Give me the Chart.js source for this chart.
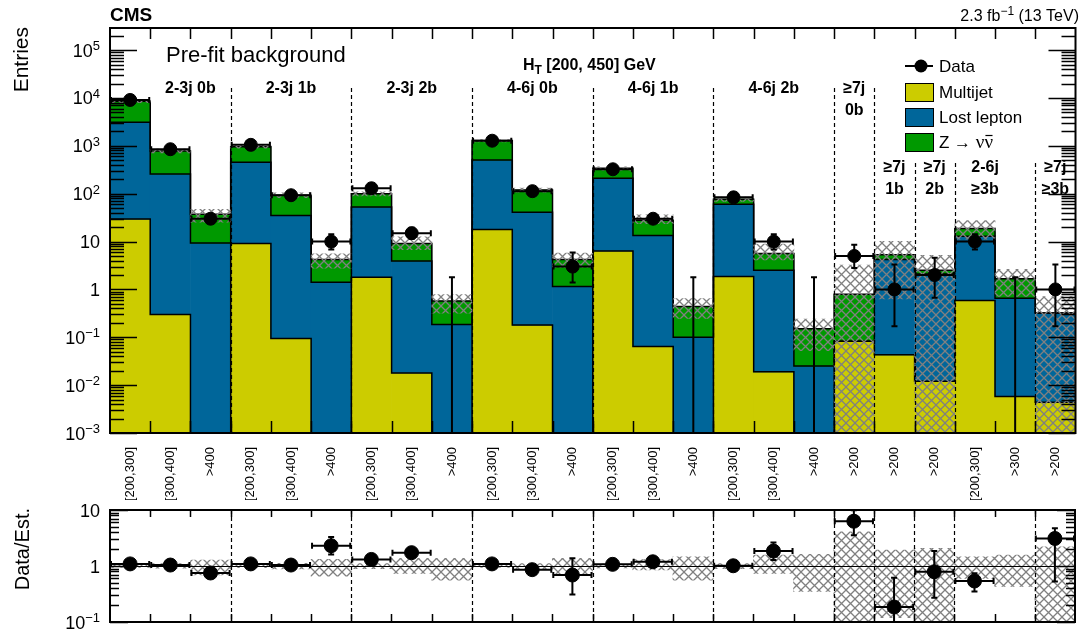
<!DOCTYPE html>
<html>
<head>
<meta charset="utf-8">
<script src="https://cdn.jsdelivr.net/npm/chart.js@4.4.1/dist/chart.umd.min.js"></script>
<style>
  html, body { margin: 0; padding: 0; background: #fff; }
  #wrap { position: relative; width: 1083px; height: 637px; }
  #mainChart { position: absolute; left: 0; top: 0; }
  #ratioChart { position: absolute; left: 0; top: 500px; }
</style>
</head>
<body>
<div id="wrap">
  <canvas id="mainChart" width="1083" height="500"></canvas>
  <canvas id="ratioChart" width="1083" height="137"></canvas>
</div>
<script>
// ---- data ----
const binLabels = [
  '[200,300]', '[300,400]', '>400',
  '[200,300]', '[300,400]', '>400',
  '[200,300]', '[300,400]', '>400',
  '[200,300]', '[300,400]', '>400',
  '[200,300]', '[300,400]', '>400',
  '[200,300]', '[300,400]', '>400',
  '>200', '>200', '>200', '[200,300]', '>300', '>200'
];

// background components (stacked: multijet, lost lepton, Z->nunu)
const multijet   = [29.5, 0.30, 0, 9.1, 0.094, 0, 1.8, 0.018, 0, 17.8, 0.18, 0, 6.35, 0.064, 0, 1.87, 0.019, 0, 0.083, 0.043, 0.012, 0.59, 0.0058, 0.0044];
const lostLepton = [3070, 257, 9.3, 446, 35, 1.42, 51, 3.9, 0.185, 487, 41, 1.15, 203, 13.4, 0.10, 58, 2.5, 0.025, 0, 4.2, 2.09, 12.3, 0.65, 0.316];
const zInv       = [5400, 523, 27.7, 505, 58, 2.8, 47, 5.2, 0.385, 785, 78, 3.05, 129, 14.5, 0.34, 17, 3.1, 0.125, 0.71, 1.05, 0.4, 5.8, 1.01, 0];

// relative uncertainty band on the total estimate
const bandHigh = [1.06, 1.10, 1.28, 1.07, 1.12, 1.31, 1.10, 1.37, 1.37, 1.06, 1.10, 1.37, 1.08, 1.30, 1.46, 1.10, 1.57, 1.61, 4.07, 1.92, 2.06, 1.46, 1.57, 2.2];
const bandLow  = [0.94, 0.91, 0.69, 0.93, 0.89, 0.66, 0.90, 0.74, 0.56, 0.94, 0.90, 0.69, 0.92, 0.85, 0.56, 0.90, 0.74, 0.35, 0, 0.12, 0, 0.60, 0.43, 0];

// observed data
const dataCounts = [9100, 850, 30, 1050, 93, 10, 130, 15, 0, 1280, 113, 3, 324, 30, 0, 84, 10, 0, 5, 1, 2, 10, 0, 1];
const dataLow    = [9000, 820, 25, 1020, 84, 6.8, 119, 11.4, 0, 1245, 102, 1.4, 306, 25, 0, 75, 6.8, 0, 2.8, 0.17, 0.67, 6.8, 0, 0.17];
const dataHigh   = [9200, 880, 36, 1080, 103, 14.2, 141, 19.4, 1.8, 1315, 124, 5.9, 342, 36, 1.8, 94, 14.2, 1.8, 8.6, 3.3, 4.6, 14.2, 1.8, 3.3];

// data / estimate
const ratioValues = [1.09, 1.04, 0.75, 1.09, 1.04, 2.3, 1.31, 1.73, null, 1.09, 0.86, 0.69, 1.07, 1.19, null, 1.01, 1.85, null, 6.3, 0.185, 0.79, 0.54, null, 3.1];
const ratioLow    = [1.07, 0.99, 0.63, 1.04, 0.93, 1.61, 1.2, 1.4, null, 1.06, 0.79, 0.31, 1.01, 1.0, null, 0.9, 1.28, null, 3.55, 0.05, 0.27, 0.35, null, 0.53];
const ratioHigh   = [1.11, 1.09, 0.88, 1.14, 1.16, 3.3, 1.42, 2.1, null, 1.12, 0.95, 1.37, 1.13, 1.4, null, 1.13, 2.63, null, 9.9, 0.62, 1.85, 0.74, null, 4.7];

// axis ticks ("^" marks the exponent)
const yTickValues = [1e-3, 1e-2, 1e-1, 1, 10, 1e2, 1e3, 1e4, 1e5];
const yTickLabels = ['10^\u22123', '10^\u22122', '10^\u22121', '1', '10', '10^2', '10^3', '10^4', '10^5'];
const ratioTickValues = [0.1, 1, 10];
const ratioTickLabels = ['10^\u22121', '1', '10'];

// category groups
const groupLabels = [['2-3j 0b'], ['2-3j 1b'], ['2-3j 2b'], ['4-6j 0b'], ['4-6j 1b'], ['4-6j 2b'],
  ['\u22657j', '0b'], ['\u22657j', '1b'], ['\u22657j', '2b'], ['2-6j', '\u22653b'], ['\u22657j', '\u22653b']];
const groupFirstBin = [0, 3, 6, 9, 12, 15, 18, 19, 20, 21, 23];
const groupLastBin  = [2, 5, 8, 11, 14, 17, 18, 19, 20, 22, 23];
const groupRow      = [1, 1, 1, 1, 1, 1, 1, 2, 2, 2, 2];

const legendNames = ['Data', 'Multijet', 'Lost lepton', 'Z \u2192 '];

/* -------------------------------
   STYLE
--------------------------------*/
const FONT = "'Liberation Sans', Arial, Helvetica, sans-serif";
const SERIF = "'Liberation Serif', 'Times New Roman', serif";
const YELLOW = '#cccc00';
const BLUE = '#00669a';
const GREEN = '#009900';
const yMin = 1e-3, yMax = 2.9e5;
const rMin = 0.1, rMax = 10;

Chart.defaults.font.family = FONT;
Chart.defaults.color = '#000';

function makeHatch() {
  const c = document.createElement('canvas');
  c.width = 9; c.height = 9;
  const g = c.getContext('2d');
  g.strokeStyle = '#808080';
  g.lineWidth = 1.3;
  g.beginPath();
  g.moveTo(0, 0); g.lineTo(9, 9);
  g.moveTo(9, 0); g.lineTo(0, 9);
  g.stroke();
  return g.createPattern(c, 'repeat');
}
const hatch = makeHatch();

// cumulative stack levels
const lvlM = multijet.slice();
const lvlL = multijet.map((m, i) => m + lostLepton[i]);
const lvlT = lvlL.map((v, i) => v + zInv[i]);

function edgePx(scale, e) {
  return scale.getPixelForValue(e - 0.5);
}

function clipArea(ctx, a) {
  ctx.beginPath();
  ctx.rect(a.left, a.top, a.right - a.left, a.bottom - a.top);
  ctx.clip();
}

// text pieces with optional superscript / subscript
function drawPieces(ctx, pieces, x, y, align, size, weight) {
  const fonts = pieces.map(p => (weight || '') + ' ' + (p.sup || p.sub ? Math.round(size * 0.72) : size) + 'px ' + (p.family || FONT));
  const widths = pieces.map((p, i) => { ctx.font = fonts[i]; return ctx.measureText(p.t).width; });
  const total = widths.reduce((s, w) => s + w, 0);
  let cx = align === 'right' ? x - total : (align === 'center' ? x - total / 2 : x);
  ctx.textAlign = 'left';
  ctx.textBaseline = 'alphabetic';
  pieces.forEach((p, i) => {
    ctx.font = fonts[i];
    const dy = p.sup ? -size * 0.36 : (p.sub ? size * 0.28 : 0);
    ctx.fillText(p.t, cx, y + dy);
    cx += widths[i];
  });
  return cx;
}

function labelPieces(s) {
  const k = s.indexOf('^');
  return k < 0 ? [{ t: s }] : [{ t: s.slice(0, k) }, { t: s.slice(k + 1), sup: true }];
}

// frame, ticks inside, dashed separators, y tick labels
function drawFrame(chart, o) {
  const { ctx, chartArea: a } = chart;
  const x = chart.scales.x, y = chart.scales.y;
  ctx.save();
  ctx.strokeStyle = '#000';

  ctx.lineWidth = 1.2;
  ctx.setLineDash([4, 3]);
  o.separators.forEach(s => {
    const px = Math.round(edgePx(x, s.edge)) + 0.5;
    ctx.beginPath();
    ctx.moveTo(px, s.top);
    ctx.lineTo(px, a.bottom);
    ctx.stroke();
  });
  ctx.setLineDash([]);

  ctx.lineWidth = 1.5;
  ctx.beginPath();
  for (let e = 1; e < binLabels.length; e++) {
    const px = Math.round(edgePx(x, e)) + 0.5;
    ctx.moveTo(px, a.top); ctx.lineTo(px, a.top + o.xTickTop);
    ctx.moveTo(px, a.bottom); ctx.lineTo(px, a.bottom - o.xTickBot);
  }
  const lo = Math.floor(Math.log10(y.min)), hi = Math.ceil(Math.log10(y.max));
  for (let k = lo; k <= hi; k++) {
    for (let m = 1; m <= 9; m++) {
      const v = m * Math.pow(10, k);
      if (v < y.min * 0.999 || v > y.max * 1.001) continue;
      const py = Math.round(y.getPixelForValue(v)) + 0.5;
      const len = m === 1 ? o.major : o.minor;
      ctx.moveTo(a.left, py); ctx.lineTo(a.left + len, py);
      ctx.moveTo(a.right, py); ctx.lineTo(a.right - len, py);
    }
  }
  ctx.stroke();

  ctx.lineWidth = 2;
  ctx.strokeRect(a.left, a.top, a.right - a.left, a.bottom - a.top);

  // y tick labels
  ctx.fillStyle = '#000';
  o.tickValues.forEach((v, i) => {
    const py = y.getPixelForValue(v);
    drawPieces(ctx, labelPieces(o.tickLabels[i]), a.left - 10, py + 6.5, 'right', 18);
  });
  ctx.restore();
}

function drawErrors(chart, vals, lo, hi, floor) {
  const { ctx, chartArea: a } = chart;
  const x = chart.scales.x, y = chart.scales.y;
  ctx.save();
  clipArea(ctx, a);
  ctx.strokeStyle = '#000';
  ctx.lineWidth = 2;
  const cap = 3;
  vals.forEach((v, i) => {
    if (hi[i] === null) return;
    const cx = x.getPixelForValue(i);
    const yTop = y.getPixelForValue(hi[i]);
    const yBot = lo[i] > floor ? y.getPixelForValue(lo[i]) : a.bottom + 2;
    ctx.beginPath();
    ctx.moveTo(cx, yTop); ctx.lineTo(cx, yBot);
    ctx.moveTo(cx - cap, yTop); ctx.lineTo(cx + cap, yTop);
    if (lo[i] > floor) { ctx.moveTo(cx - cap, yBot); ctx.lineTo(cx + cap, yBot); }
    if (v !== null && v > 0) {
      const cy = y.getPixelForValue(v);
      const xl = edgePx(x, i), xr = edgePx(x, i + 1);
      ctx.moveTo(xl, cy); ctx.lineTo(xr, cy);
      ctx.moveTo(xl + 1, cy - cap); ctx.lineTo(xl + 1, cy + cap);
      ctx.moveTo(xr - 1, cy - cap); ctx.lineTo(xr - 1, cy + cap);
    }
    ctx.stroke();
  });
  ctx.restore();
}

// keep the plot frame exactly where the layout padding puts it
function fixX(height) {
  return s => {
    s.height = height;
    s.paddingLeft = 0;
    s.paddingRight = 0;
  };
}
function fixY(s) {
  s.width = 110;
  s.paddingTop = 0;
  s.paddingBottom = 0;
}

/* -------------------------------
   MAIN PANEL
--------------------------------*/
const mainSeparators = groupFirstBin.slice(1).map((b, k) => ({
  edge: b,
  top: (groupRow[k] === 1 || groupRow[k + 1] === 1) ? 88 : 163
}));

const mainPlugin = {
  id: 'mainPlugin',
  afterDatasetDraw(chart, args) {
    if (args.index !== 2) return;
    // step outlines of the cumulative histograms
    const { ctx, chartArea: a } = chart;
    const x = chart.scales.x, y = chart.scales.y;
    ctx.save();
    clipArea(ctx, a);
    ctx.strokeStyle = '#000';
    ctx.lineWidth = 1.5;
    [lvlM, lvlL, lvlT].forEach(lvl => {
      ctx.beginPath();
      lvl.forEach((v, i) => {
        const py = y.getPixelForValue(Math.max(v, yMin));
        const xl = edgePx(x, i), xr = edgePx(x, i + 1);
        if (i === 0) ctx.moveTo(xl, py); else ctx.lineTo(xl, py);
        ctx.lineTo(xr, py);
      });
      ctx.stroke();
    });
    ctx.restore();
  },
  afterDatasetsDraw(chart) {
    drawErrors(chart, dataCounts, dataLow, dataHigh, 0);
  },
  afterDraw(chart) {
    drawFrame(chart, { separators: mainSeparators, xTickTop: 11, xTickBot: 12, major: 27, minor: 14,
      tickValues: yTickValues, tickLabels: yTickLabels });
    const ctx = chart.ctx;
    const x = chart.scales.x;
    ctx.save();
    ctx.fillStyle = '#000';

    // header
    drawPieces(ctx, [{ t: 'CMS' }], 110, 21, 'left', 19, 'bold');
    drawPieces(ctx, [{ t: '2.3 fb' }, { t: '\u22121', sup: true }, { t: ' (13 TeV)' }], 1079, 21, 'right', 16);

    // y title
    ctx.save();
    ctx.translate(28, 27);
    ctx.rotate(-Math.PI / 2);
    ctx.font = '21px ' + FONT;
    ctx.textAlign = 'right';
    ctx.textBaseline = 'alphabetic';
    ctx.fillText('Entries', 0, 0);
    ctx.restore();

    drawPieces(ctx, [{ t: 'Pre-fit background' }], 166, 62, 'left', 22);
    drawPieces(ctx, [{ t: 'H' }, { t: 'T', sub: true }, { t: ' [200, 450] GeV' }], 523, 70, 'left', 16, 'bold');

    // group labels
    groupLabels.forEach((lines, g) => {
      let cx = (edgePx(x, groupFirstBin[g]) + edgePx(x, groupLastBin[g] + 1)) / 2;
      if (g === 0) cx += 20;
      if (g === 9) cx -= 10;
      const base = groupRow[g] === 1 ? 93 : 172;
      lines.forEach((t, j) => drawPieces(ctx, [{ t }], cx, base + j * 22, 'center', 16, 'bold'));
    });

    // legend
    const lx0 = 905, lx1 = 933;
    ctx.strokeStyle = '#000';
    ctx.lineWidth = 2;
    ctx.beginPath(); ctx.moveTo(lx0, 66); ctx.lineTo(lx1, 66); ctx.stroke();
    ctx.beginPath(); ctx.arc(921, 66, 6.5, 0, Math.PI * 2); ctx.fill();
    const boxes = [[YELLOW, 83], [BLUE, 108], [GREEN, 133]];
    ctx.lineWidth = 1;
    boxes.forEach(([c, top]) => {
      ctx.fillStyle = c;
      ctx.fillRect(lx0, top, lx1 - lx0, 18);
      ctx.strokeRect(lx0 + 0.5, top + 0.5, lx1 - lx0, 18);
    });
    ctx.fillStyle = '#000';
    const bases = [72, 98, 123, 148];
    [0, 1, 2].forEach(i => drawPieces(ctx, [{ t: legendNames[i] }], 939, bases[i], 'left', 17));
    let ex = drawPieces(ctx, [{ t: legendNames[3] }], 939, bases[3], 'left', 17);
    ctx.font = '19px ' + SERIF;
    ctx.textAlign = 'left';
    const nuW = ctx.measureText('\u03bd').width;
    ctx.fillText('\u03bd\u03bd', ex, bases[3]);
    ctx.lineWidth = 1.2;
    ctx.beginPath();
    ctx.moveTo(ex + nuW + 1, bases[3] - 12.5);
    ctx.lineTo(ex + 2 * nuW - 0.5, bases[3] - 12.5);
    ctx.stroke();
    ctx.restore();
  }
};

new Chart(document.getElementById('mainChart'), {
  type: 'bar',
  data: {
    labels: binLabels,
    datasets: [
      { label: 'Multijet', data: multijet.map(m => m > 0 ? [yMin, m] : null), backgroundColor: YELLOW, order: 5 },
      { label: 'Lost lepton', data: lostLepton.map((l, i) => l > 0 ? [Math.max(yMin, lvlM[i]), lvlL[i]] : null), backgroundColor: BLUE, order: 4 },
      { label: 'Z \u2192 \u03bd\u03bd\u0304', data: zInv.map((z, i) => z > 0 ? [lvlL[i], lvlT[i]] : null), backgroundColor: GREEN, order: 3 },
      { label: 'Uncertainty', data: lvlT.map((t, i) => [Math.max(yMin, t * bandLow[i]), t * bandHigh[i]]), backgroundColor: hatch, order: 2 },
      { type: 'line', label: 'Data', data: dataCounts.map(v => v > 0 ? v : null), showLine: false,
        pointRadius: 6.5, pointHoverRadius: 6.5, pointBackgroundColor: '#000', pointBorderColor: '#000', order: 1 }
    ]
  },
  options: {
    responsive: false,
    animation: false,
    devicePixelRatio: 1,
    layout: { padding: { top: 28, right: 4, left: 0, bottom: 0 } },
    datasets: { bar: { grouped: false, categoryPercentage: 1, barPercentage: 1, borderWidth: 0 } },
    plugins: { legend: { display: false }, tooltip: { enabled: false } },
    scales: {
      x: {
        type: 'category',
        grid: { display: false },
        border: { display: false },
        ticks: { autoSkip: false, minRotation: 90, maxRotation: 90, padding: 6, font: { size: 13 } },
        afterFit: fixX(67)
      },
      y: {
        type: 'logarithmic',
        min: yMin,
        max: yMax,
        grid: { display: false },
        border: { display: false },
        afterBuildTicks: s => { s.ticks = yTickValues.map(v => ({ value: v })); },
        ticks: { display: false },
        afterFit: fixY
      }
    }
  },
  plugins: [mainPlugin]
});

/* -------------------------------
   RATIO PANEL
--------------------------------*/
const ratioSeparators = groupFirstBin.slice(1).map(b => ({ edge: b, top: 10 }));

const ratioPlugin = {
  id: 'ratioPlugin',
  afterDatasetsDraw(chart) {
    const { ctx, chartArea: a } = chart;
    const py = Math.round(chart.scales.y.getPixelForValue(1)) + 0.5;
    ctx.save();
    ctx.strokeStyle = '#000';
    ctx.lineWidth = 1;
    ctx.beginPath(); ctx.moveTo(a.left, py); ctx.lineTo(a.right, py); ctx.stroke();
    ctx.restore();
    drawErrors(chart, ratioValues, ratioLow, ratioHigh, rMin);
  },
  afterDraw(chart) {
    drawFrame(chart, { separators: ratioSeparators, xTickTop: 7, xTickBot: 8, major: 18, minor: 9,
      tickValues: ratioTickValues, tickLabels: ratioTickLabels });
    const ctx = chart.ctx;
    ctx.save();
    ctx.translate(29, 8);
    ctx.rotate(-Math.PI / 2);
    ctx.fillStyle = '#000';
    ctx.font = '20px ' + FONT;
    ctx.textAlign = 'right';
    ctx.textBaseline = 'alphabetic';
    ctx.fillText('Data/Est.', 0, 0);
    ctx.restore();
  }
};

new Chart(document.getElementById('ratioChart'), {
  type: 'bar',
  data: {
    labels: binLabels,
    datasets: [
      { label: 'Uncertainty', data: bandHigh.map((h, i) => [Math.max(rMin, bandLow[i]), h]), backgroundColor: hatch, order: 2 },
      { type: 'line', label: 'Data/Est.', data: ratioValues, showLine: false,
        pointRadius: 7, pointHoverRadius: 7, pointBackgroundColor: '#000', pointBorderColor: '#000', order: 1 }
    ]
  },
  options: {
    responsive: false,
    animation: false,
    devicePixelRatio: 1,
    layout: { padding: { top: 10, right: 4, left: 0, bottom: 0 } },
    datasets: { bar: { grouped: false, categoryPercentage: 1, barPercentage: 1, borderWidth: 0 } },
    plugins: { legend: { display: false }, tooltip: { enabled: false } },
    scales: {
      x: {
        type: 'category',
        grid: { display: false },
        border: { display: false },
        ticks: { display: false },
        afterFit: fixX(15)
      },
      y: {
        type: 'logarithmic',
        min: rMin,
        max: rMax,
        grid: { display: false },
        border: { display: false },
        afterBuildTicks: s => { s.ticks = ratioTickValues.map(v => ({ value: v })); },
        ticks: { display: false },
        afterFit: fixY
      }
    }
  },
  plugins: [ratioPlugin]
});
</script>
</body>
</html>
